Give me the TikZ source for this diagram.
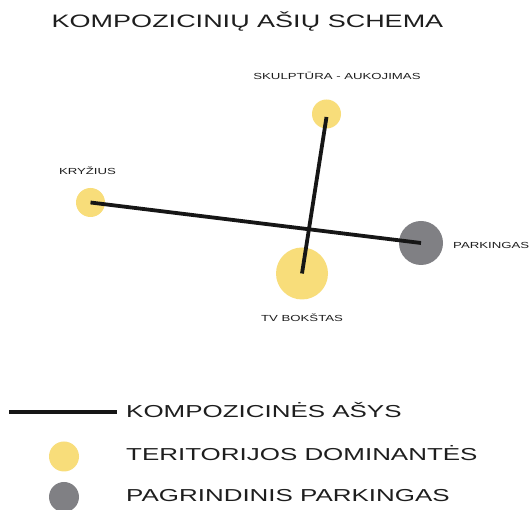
\documentclass[tikz,border=0pt]{standalone}
\usepackage{fontspec}
\setmainfont{Liberation Sans}
\newfontfamily\widefont[FakeStretch=1.5]{Liberation Sans}
\usepackage{xcolor}
\usepackage{tikz}
\usetikzlibrary{positioning,calc}

\begin{document}
\begin{tikzpicture}[x=1pt,y=-1pt]
	\definecolor{domyellow}{RGB}{248,221,122}
	\definecolor{parkgray}{RGB}{128,128,132}
	\definecolor{axisblack}{RGB}{22,22,22}
	\definecolor{txtgray}{RGB}{30,30,30}
	\tikzset{
		dom/.style={
			circle,
			fill=domyellow,
			inner sep=0pt
		},
		park/.style={
			circle,
			fill=parkgray,
			inner sep=0pt
		},
		axisln/.style={
			draw=axisblack,
			line width=3.8pt
		},
		smalllbl/.style={
			inner sep=0pt,
			text=txtgray,
			font=\widefont\fontsize{8.8}{10}\selectfont
		},
		biglbl/.style={
			inner sep=0pt,
			text=txtgray,
			font=\widefont\fontsize{17.3}{20}\selectfont
		}
	}
	
	\useasboundingbox[fill=white] (0,0) rectangle (531,510);
	
	% ======= Title =======
	\node[biglbl,anchor=base,font=\widefont\fontsize{18}{21}\selectfont] (title) at (247.5,27.5) {KOMPOZICINIŲ AŠIŲ SCHEMA};
	
	% ======= Points =======
	\node[dom,minimum size=29pt] (skulp) at (326.5,114) {};
	\node[dom,minimum size=29pt] (kryz) at (90.5,202.5) {};
	\node[dom,minimum size=52pt] (tv) at (302,273.5) {};
	\node[park,minimum size=44pt] (parking) at (421,243) {};
	
	% ======= Axes =======
	\draw[axisln] (kryz.center) -- (parking.center);
	\draw[axisln] ([yshift=-3pt]skulp.center) -- (tv.center);
	
	% ======= Labels =======
	\node[smalllbl,anchor=base] (skulplbl) at (337,80) {SKULPTŪRA - AUKOJIMAS};
	\node[smalllbl,anchor=base] (kryzlbl) at (87.5,175) {KRYŽIUS};
	\node[smalllbl,anchor=base west] (parklbl) at (453,249) {PARKINGAS};
	\node[smalllbl,anchor=base] (tvlbl) at (302,322) {TV BOKŠTAS};
	
	% ======= Legend =======
	\coordinate (lgA) at (9,412);
	\coordinate (lgB) at (117,412);
	\draw[draw=axisblack,line width=3.6pt] (lgA) -- (lgB);
	\node[biglbl,anchor=base west] (lg1) at (126,418) {KOMPOZICINĖS AŠYS};
	
	\node[dom,minimum size=30pt] (lgdom) at (64,456.5) {};
	\node[biglbl,anchor=base west] (lg2) at (126,461) {TERITORIJOS DOMINANTĖS};
	
	\node[park,minimum size=30pt] (lgpark) at (64,497) {};
	\node[biglbl,anchor=base west] (lg3) at (126,502) {PAGRINDINIS PARKINGAS};
\end{tikzpicture}
\end{document}
